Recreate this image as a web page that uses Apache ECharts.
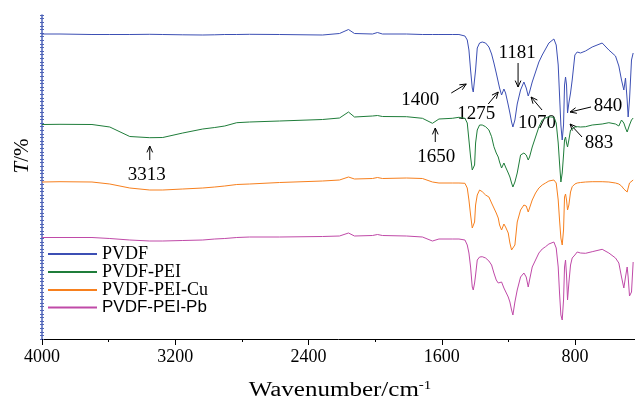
<!DOCTYPE html>
<html>
<head>
<meta charset="utf-8">
<script src="https://cdn.jsdelivr.net/npm/echarts@6/dist/echarts.min.js"></script>
<style>html,body{margin:0;padding:0;background:#fff;}#c{width:635px;height:401px;}</style>
</head>
<body>
<div id="c"></div>
<script>
// Wavenumbers (cm-1) shared by all spectra
const wavenumber = [4000, 3892, 3700, 3593, 3473, 3353, 3275, 3155, 3035, 2963, 2903, 2831, 2754, 2574, 2316, 2214, 2160, 2124, 2016, 1986, 1956, 1812, 1716, 1656,
  1617, 1537, 1497, 1461, 1447, 1437, 1427, 1417, 1411, 1403, 1397, 1387, 1373, 1357, 1337, 1317, 1301, 1287, 1273, 1261,
  1253, 1241, 1227, 1217, 1201, 1191, 1181, 1173, 1161, 1147, 1127, 1107, 1093, 1081, 1073, 1057, 1037, 1017, 997, 977,
  957, 927, 913, 901, 893, 885, 877, 869, 863, 857, 851, 845, 837, 827, 817, 801, 787, 767, 737, 697,
  637, 597, 557, 537, 521, 507, 497, 487, 481, 473, 461, 451];

// Offset transmittance (arbitrary units) for each sample
const tPVDF = [305, 305, 304.5, 304.5, 304.5, 304.7, 304.5, 304.2, 304, 304.2, 304.5, 304.5, 304.7, 304.5, 304, 305.5, 309.5, 305.5, 305, 306.5, 305, 305, 304.5, 304.5,
  304.5, 304.5, 304.5, 303, 299, 289, 269, 251, 247, 249, 269, 291, 296, 297, 296, 292, 285, 276, 266, 257,
  251, 244, 250, 246, 234, 226, 217, 212, 219, 235, 249, 257, 251, 243, 247, 257, 267, 277, 284, 290,
  296, 300, 294, 274, 244, 214, 199, 214, 254, 262, 254, 226, 236, 246, 259, 284, 287, 286, 288, 292,
  296, 289, 283, 273, 259, 249, 261, 239, 222, 239, 279, 286];
const tPEI = [214.5, 214.7, 214.5, 212, 202.5, 201.3, 201.5, 206, 210, 211.5, 213, 216.3, 217, 218, 219.5, 221, 227, 222, 223, 223.5, 222.5, 222.3, 220.7, 215.7,
  220, 220.7, 221.7, 220.7, 216, 199, 182, 169, 171, 174, 196, 209, 214, 214, 212.3, 209, 202.3, 192.3, 186, 182,
  177, 171, 176, 172, 166, 162, 156, 152, 157, 166, 184, 186, 184, 179, 182, 192, 202, 212, 219, 221,
  222.3, 221.7, 216, 196, 176, 157, 166, 184, 199, 202, 196, 192, 199, 209, 211, 212, 212.3, 212, 212.3, 214,
  215, 216.3, 215, 213, 219, 216, 211, 207, 209, 214, 219, 221];
const tCu = [157, 157.3, 157, 155, 151, 149, 149, 150, 151, 152, 153, 154.5, 155, 156.5, 158, 159, 162, 160, 160.5, 161.5, 160.5, 161, 160.5, 157,
  156, 156, 156, 155.7, 151, 139, 124, 111, 109, 117, 134, 144, 149, 147.3, 144, 142, 136, 131, 126, 121,
  114, 109, 115, 112, 106, 96, 89, 87, 94, 117, 129, 134, 133, 127, 131, 139, 146, 151, 154, 156,
  158, 159, 156, 139, 119, 101, 94, 109, 142, 145, 139, 129, 134, 147, 152.3, 155, 156, 156.5, 157, 157.3,
  157.3, 157, 156, 155, 153, 150, 151, 147, 151, 156, 158, 159];
const tPb = [101.5, 101.5, 101.5, 100.5, 99, 98, 98, 98.5, 99, 100, 100.5, 101.5, 102, 102, 102.5, 103, 106, 103, 103.5, 104.5, 103.5, 103, 102, 98,
  100, 100, 100, 99, 94, 86, 72, 52, 49, 56, 64, 79, 82, 82.3, 81, 78, 74, 66, 59, 56,
  54, 57, 51, 49, 42, 37, 29, 24, 37, 49, 62, 66, 62, 52, 59, 72, 79, 86, 90, 92.3,
  95, 97, 91, 72, 46, 24, 19, 39, 72, 79, 64, 39, 56, 74, 81, 84, 87, 86, 85.7, 87.3,
  89.7, 86, 81, 76, 62, 51, 62, 72, 62, 43, 47, 77];

const seriesNames = ['PVDF', 'PVDF-PEI', 'PVDF-PEI-Cu', 'PVDF-PEI-Pb'];
const seriesValues = [tPVDF, tPEI, tCu, tPb];
const seriesColors = ['#3c4fb4', '#1f7d3a', '#f7801e', '#c04aa8'];

const xMajorTicks = [4000, 3200, 2400, 1600, 800];
const xMinorTicks = [3600, 2800, 2000, 1200];

// Peak annotations in data coordinates: label position, arrow start, arrow end
const peakLabels = ['1400', '1275', '1181', '1070', '840', '883', '3313', '1650'];
const peakLabelAt = [[1729, 239], [1393, 225], [1148, 286], [1028, 216], [602, 233], [656, 196], [3371, 164], [1633, 182]];
const peakArrowFrom = [[1543, 246], [1321, 235], [1142, 276], [998, 229], [704, 232], [758, 202], [3353, 179], [1639, 197]];
const peakArrowTo = [[1453, 255], [1261, 247], [1142, 252], [1064, 242], [830, 227], [830, 215], [3353, 193], [1639, 211]];

const SERIF = 'Liberation Serif, Times New Roman, serif';
const chart = echarts.init(document.getElementById('c'), null, {renderer: 'canvas'});

const yBase = {
  type: 'value', min: 0, max: 324, interval: 3.6, position: 'left', offset: 0, gridIndex: 0,
  axisLabel: {show: false}, splitLine: {show: false}
};

chart.setOption({
  animation: false,
  backgroundColor: '#fff',
  grid: {left: 42, right: -1, top: 15, bottom: 62},
  xAxis: [{
    type: 'value', inverse: true, min: 440, max: 4000, position: 'bottom',
    axisLine: {show: true, lineStyle: {color: '#000', width: 1}},
    axisTick: {show: true, customValues: xMajorTicks, length: 6, lineStyle: {color: '#000'}},
    axisLabel: {show: true, customValues: xMajorTicks, fontFamily: SERIF, fontSize: 18, color: '#000', margin: 9,
      formatter: function (v) { return String(v); }},
    splitLine: {show: false}
  }, {
    type: 'value', inverse: true, min: 440, max: 4000, position: 'bottom', offset: 0, gridIndex: 0,
    axisLine: {show: false},
    axisTick: {show: true, customValues: xMinorTicks, length: 3, lineStyle: {color: '#000'}},
    axisLabel: {show: false},
    splitLine: {show: false}
  }],
  yAxis: [Object.assign({}, yBase, {
    axisLine: {show: true, lineStyle: {color: '#4f64b8', width: 1.5}},
    axisTick: {show: true, inside: false, length: 2, lineStyle: {color: '#4f64b8'}}
  }), Object.assign({}, yBase, {
    axisLine: {show: false},
    axisTick: {show: true, inside: true, length: 2, lineStyle: {color: '#4f64b8'}}
  })],
  legend: {
    data: seriesNames,
    orient: 'vertical', left: 48, top: 245, padding: 0,
    itemWidth: 49, itemHeight: 2, itemGap: 0, icon: 'rect',
    formatter: function (n) { return n === 'PVDF-PEI-Pb' ? '{a|' + n + '}' : '{s|' + n + '}'; },
    textStyle: {
      color: '#000',
      rich: {
        s: {fontFamily: SERIF, fontSize: 18, lineHeight: 22, color: '#000'},
        a: {fontFamily: 'Liberation Sans, Arial, sans-serif', fontSize: 17, lineHeight: 22, color: '#000'}
      }
    }
  },
  series: seriesNames.map(function (name, i) {
    return {
      name: name, type: 'line', xAxisIndex: 0, yAxisIndex: 0,
      showSymbol: false, symbol: 'none',
      lineStyle: {width: 1, color: seriesColors[i]},
      itemStyle: {color: seriesColors[i]},
      data: wavenumber.map(function (w, k) { return [w, seriesValues[i][k]]; })
    };
  })
});

function px(p) { return chart.convertToPixel({gridIndex: 0}, p); }

const graphics = [];
peakLabels.forEach(function (label, i) {
  const c = px(peakLabelAt[i]);
  graphics.push({
    type: 'text', x: c[0], y: c[1], silent: true,
    style: {text: label, fontFamily: SERIF, fontSize: 19, fill: '#000', align: 'center', verticalAlign: 'middle'}
  });
  const a = px(peakArrowFrom[i]);
  const b = px(peakArrowTo[i]);
  const ang = Math.atan2(b[1] - a[1], b[0] - a[0]);
  const L = 7, s = 0.42;
  const h1 = [b[0] - L * Math.cos(ang - s), b[1] - L * Math.sin(ang - s)];
  const h2 = [b[0] - L * Math.cos(ang + s), b[1] - L * Math.sin(ang + s)];
  graphics.push({type: 'line', silent: true, shape: {x1: a[0], y1: a[1], x2: b[0], y2: b[1]}, style: {stroke: '#000', lineWidth: 1}});
  graphics.push({type: 'polyline', silent: true, shape: {points: [h1, b, h2]}, style: {stroke: '#000', lineWidth: 1, fill: null}});
});

// axis titles
graphics.push({
  type: 'text', x: 22, y: 156, rotation: Math.PI / 2, silent: true,
  style: {text: '{i|T}/%', align: 'center', verticalAlign: 'middle', fontFamily: SERIF, fontSize: 21, fill: '#000',
    rich: {i: {fontStyle: 'italic', fontFamily: SERIF, fontSize: 21, fill: '#000'}}}
});
graphics.push({
  type: 'text', x: 340, y: 391, scaleX: 1.25, silent: true,
  style: {text: 'Wavenumber/cm{sup|-1}', align: 'center', verticalAlign: 'middle', fontFamily: SERIF, fontSize: 20, fill: '#000',
    rich: {sup: {fontFamily: SERIF, fontSize: 12, verticalAlign: 'top', padding: [0, 0, 10, 0], fill: '#000'}}}
});

chart.setOption({graphic: graphics});
</script>
</body>
</html>
